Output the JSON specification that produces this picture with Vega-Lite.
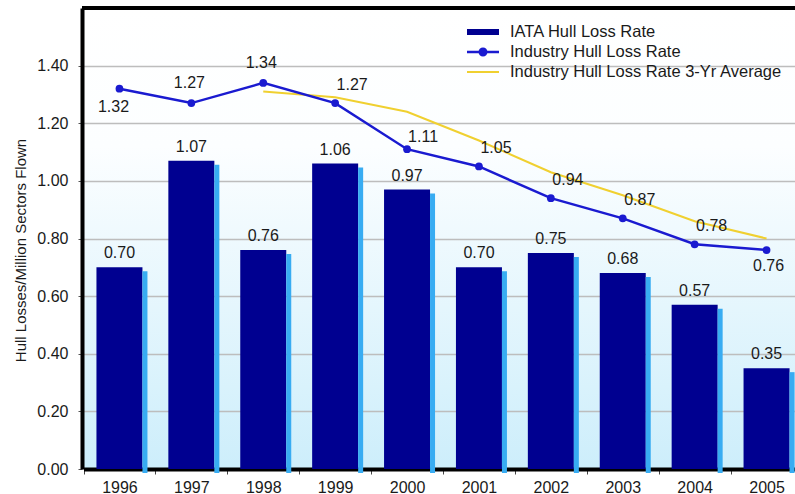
{
  "$schema": "https://vega.github.io/schema/vega-lite/v6.json",
  "width": 713,
  "height": 461,
  "autosize": {"type": "none"},
  "padding": {"left": 82, "top": 8, "right": 0, "bottom": 25},
  "background": "white",
  "config": {
    "font": "Liberation Sans",
    "view": {
      "stroke": null,
      "fill": {
        "gradient": "linear",
        "x1": 0, "y1": 0, "x2": 0, "y2": 1,
        "stops": [
          {"offset": 0, "color": "#ffffff"},
          {"offset": 0.3, "color": "#fcfeff"},
          {"offset": 1, "color": "#cdeefb"}
        ]
      }
    }
  },
  "data": {
    "values": [
      {"year": 1996, "iata": 0.70, "industry": 1.32, "avg3": null},
      {"year": 1997, "iata": 1.07, "industry": 1.27, "avg3": null},
      {"year": 1998, "iata": 0.76, "industry": 1.34, "avg3": 1.31},
      {"year": 1999, "iata": 1.06, "industry": 1.27, "avg3": 1.29},
      {"year": 2000, "iata": 0.97, "industry": 1.11, "avg3": 1.24},
      {"year": 2001, "iata": 0.70, "industry": 1.05, "avg3": 1.14},
      {"year": 2002, "iata": 0.75, "industry": 0.94, "avg3": 1.03},
      {"year": 2003, "iata": 0.68, "industry": 0.87, "avg3": 0.95},
      {"year": 2004, "iata": 0.57, "industry": 0.78, "avg3": 0.86},
      {"year": 2005, "iata": 0.35, "industry": 0.76, "avg3": 0.80}
    ]
  },
  "layer": [
    {
      "encoding": {
        "x": {
          "field": "year",
          "type": "ordinal",
          "scale": {"range": [1.5, 720.5], "paddingInner": 0, "paddingOuter": 0},
          "axis": {
            "title": null,
            "labelAngle": 0,
            "labelFont": "Liberation Sans",
            "labelFontSize": 16,
            "labelColor": "#1a1a1a",
            "labelPadding": 5,
            "domainColor": "#000000",
            "domainWidth": 4,
            "tickBand": "extent",
            "tickColor": "#444444",
            "tickSize": 5,
            "tickWidth": 1,
            "grid": false
          }
        }
      },
      "layer": [
        {
          "mark": {"type": "bar", "width": 46},
          "encoding": {
            "y": {
              "field": "iata",
              "type": "quantitative",
              "scale": {"domain": [0, 1.6], "nice": false},
              "axis": {
                "title": "Hull Losses/Million Sectors Flown",
                "titleFont": "Liberation Sans",
                "titleFontSize": 15,
                "titleFontWeight": "normal",
                "titleColor": "#1a1a1a",
                "titleAngle": 270,
                "titleX": -62,
                "titleY": 242,
                "titleAlign": "center",
                "titleBaseline": "middle",
                "values": [0, 0.2, 0.4, 0.6, 0.8, 1.0, 1.2, 1.4],
                "format": ".2f",
                "labelFont": "Liberation Sans",
                "labelFontSize": 16,
                "labelColor": "#1a1a1a",
                "labelPadding": 10,
                "domainColor": "#000000",
                "domainWidth": 4,
                "tickColor": "#555555",
                "tickSize": 4,
                "grid": true,
                "gridColor": "#bdbdbd",
                "gridWidth": 1.5
              }
            },
            "color": {
              "datum": "IATA Hull Loss Rate",
              "scale": {
                "domain": ["IATA Hull Loss Rate", "Industry Hull Loss Rate", "Industry Hull Loss Rate 3-Yr Average"],
                "range": ["#000090", "#1a1ad0", "#f0d030"]
              },
              "legend": {
                "title": null,
                "orient": "none",
                "legendX": 391,
                "legendY": 14,
                "padding": 0,
                "labelFont": "Liberation Sans",
                "labelFontSize": 16.5,
                "labelColor": "#1a1a1a",
                "labelLimit": 0,
                "labelOffset": 17,
                "rowPadding": 1,
                "symbolSize": 400,
                "encode": {
                  "symbols": {
                    "update": {
                      "shape": {"signal": "datum.value === 'IATA Hull Loss Rate' ? 'M-1.6,-0.3H1.6V0.3H-1.6Z' : datum.value === 'Industry Hull Loss Rate' ? 'M-1.6,-0.13H1.6V0.13H-1.6Z M-0.45,0A0.45,0.45,0,1,1,0.45,0A0.45,0.45,0,1,1,-0.45,0Z' : 'M-1.6,-0.1H1.6V0.1H-1.6Z'"},
                      "fill": {"signal": "scale('color', datum.value)"},
                      "stroke": {"value": "transparent"},
                      "strokeWidth": {"value": 0},
                      "opacity": {"value": 1}
                    }
                  }
                }
              }
            }
          }
        },
        {
          "mark": {"type": "bar", "width": 5, "xOffset": 25.5, "yOffset": 4, "color": "#38acf2"},
          "encoding": {
            "y": {"field": "iata", "type": "quantitative"}
          }
        },
        {
          "mark": {"type": "line", "strokeWidth": 2},
          "encoding": {
            "y": {"field": "avg3", "type": "quantitative"},
            "color": {"datum": "Industry Hull Loss Rate 3-Yr Average"}
          }
        },
        {
          "mark": {"type": "line", "strokeWidth": 2.5, "point": {"filled": true, "size": 60}},
          "encoding": {
            "y": {"field": "industry", "type": "quantitative"},
            "color": {"datum": "Industry Hull Loss Rate"}
          }
        },
        {
          "mark": {"type": "text", "dy": -14, "baseline": "middle", "fontSize": 16, "color": "#1a1a1a"},
          "encoding": {
            "y": {"field": "iata", "type": "quantitative"},
            "text": {"field": "iata", "type": "quantitative", "format": ".2f"}
          }
        },
        {
          "transform": [{"filter": "datum.year == 1996"}],
          "mark": {"type": "text", "dx": -6, "dy": 18, "baseline": "middle", "fontSize": 16, "color": "#1a1a1a"},
          "encoding": {
            "y": {"field": "industry", "type": "quantitative"},
            "text": {"field": "industry", "type": "quantitative", "format": ".2f"}
          }
        },
        {
          "transform": [{"filter": "datum.year == 1997 || datum.year == 1998"}],
          "mark": {"type": "text", "dx": -2, "dy": -20, "baseline": "middle", "fontSize": 16, "color": "#1a1a1a"},
          "encoding": {
            "y": {"field": "industry", "type": "quantitative"},
            "text": {"field": "industry", "type": "quantitative", "format": ".2f"}
          }
        },
        {
          "transform": [{"filter": "datum.year == 1999 || (datum.year >= 2001 && datum.year <= 2004)"}],
          "mark": {"type": "text", "dx": 17, "dy": -18, "baseline": "middle", "fontSize": 16, "color": "#1a1a1a"},
          "encoding": {
            "y": {"field": "industry", "type": "quantitative"},
            "text": {"field": "industry", "type": "quantitative", "format": ".2f"}
          }
        },
        {
          "transform": [{"filter": "datum.year == 2000"}],
          "mark": {"type": "text", "dx": 16, "dy": -12, "baseline": "middle", "fontSize": 16, "color": "#1a1a1a"},
          "encoding": {
            "y": {"field": "industry", "type": "quantitative"},
            "text": {"field": "industry", "type": "quantitative", "format": ".2f"}
          }
        },
        {
          "transform": [{"filter": "datum.year == 2005"}],
          "mark": {"type": "text", "dx": 2, "dy": 16, "baseline": "middle", "fontSize": 16, "color": "#1a1a1a"},
          "encoding": {
            "y": {"field": "industry", "type": "quantitative"},
            "text": {"field": "industry", "type": "quantitative", "format": ".2f"}
          }
        }
      ]
    },
    {
      "mark": {"type": "rule", "strokeWidth": 4, "color": "#000000"},
      "encoding": {"y": {"datum": 1.6}}
    }
  ]
}
